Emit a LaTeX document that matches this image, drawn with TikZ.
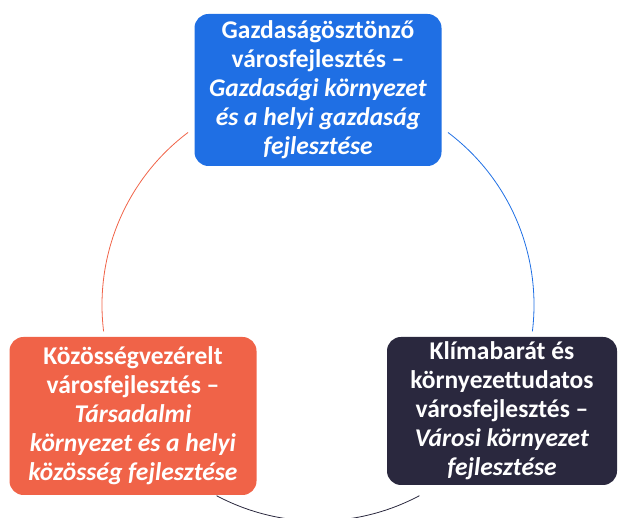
\documentclass[tikz,border=0pt]{standalone}
\usepackage{fontspec}
\setmainfont{Carlito}
\usetikzlibrary{arrows,shapes}
\usepackage{xcolor}
\definecolor{gazdblue}{RGB}{31,111,228}
\definecolor{tarsred}{RGB}{240,99,72}
\definecolor{klimadark}{RGB}{42,40,62}
\pgfdeclarelayer{background}
\pgfsetlayers{background,main}
\tikzstyle{pillar}=[rounded corners=14pt, minimum width=247pt, minimum height=152pt, text=white, align=center, inner sep=0pt, font=\fontsize{25.5}{29}\selectfont\bfseries]
\tikzstyle{cycle arc}=[draw, line width=0.8pt]

\begin{document}
\begin{tikzpicture}[x=1pt,y=1pt]
    \useasboundingbox (0,0) rectangle (621,518);

    % Boxes
    \node[pillar, fill=gazdblue] (gazd) at (318,428) {Gazdaságösztönző\\városfejlesztés –\\\textit{Gazdasági környezet}\\\textit{és a helyi gazdaság}\\\textit{fejlesztése}};
    \node[pillar, fill=tarsred, minimum height=158pt] (tars) at (133,102) {Közösségvezérelt\\városfejlesztés –\\\textit{Társadalmi}\\\textit{környezet és a helyi}\\\textit{közösség fejlesztése}};
    \node[pillar, fill=klimadark, minimum width=230pt, minimum height=148pt] (klima) at (502,107) {Klímabarát és\\környezettudatos\\városfejlesztés –\\\textit{Városi környezet}\\\textit{fejlesztése}};

    % Cycle
    \coordinate (kozep) at (318,213);
    \begin{pgfonlayer}{background}
        \foreach \from/\to/\col in {127/187/tarsred, 53/-7/gazdblue, 242/298/klimadark}
            \path[cycle arc, \col] ([shift={(\from:216pt)}]kozep) arc[start angle=\from, end angle=\to, radius=216pt];
    \end{pgfonlayer}
\end{tikzpicture}
\end{document}
